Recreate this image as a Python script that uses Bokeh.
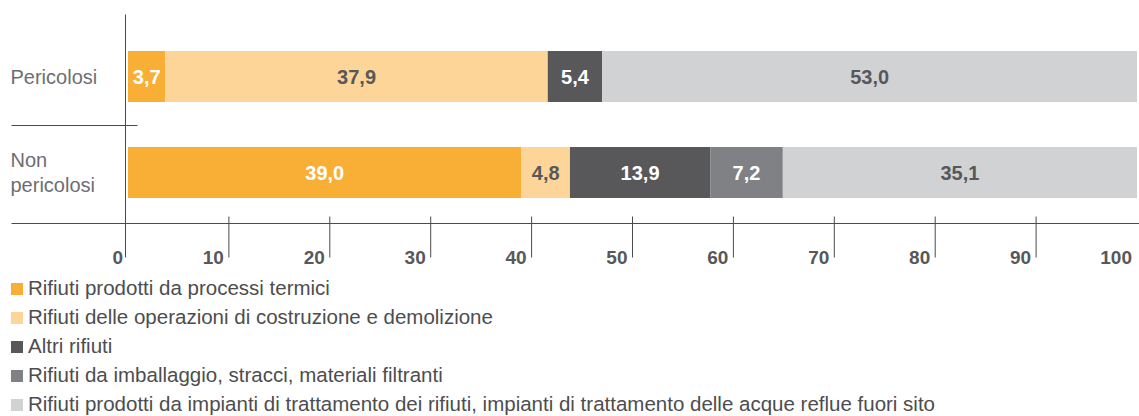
import numpy as np
from bokeh.plotting import figure
from bokeh.models import ColumnDataSource, Range1d, Legend, LegendItem
from bokeh.core.properties import value
from bokeh.embed import file_html
from bokeh.resources import INLINE

# ---------------- data ----------------
categories = ["Pericolosi", "Non\npericolosi"]
series = [
    "Rifiuti prodotti da processi termici",
    "Rifiuti delle operazioni di costruzione e demolizione",
    "Altri rifiuti",
    "Rifiuti da imballaggio, stracci, materiali filtranti",
    "Rifiuti prodotti da impianti di trattamento dei rifiuti, impianti di trattamento delle acque reflue fuori sito",
]
termici = [3.7, 39.0]
costruzione = [37.9, 4.8]
altri = [5.4, 13.9]
imballaggio = [0.0, 7.2]
impianti = [53.0, 35.1]
x_ticks = [0, 10, 20, 30, 40, 50, 60, 70, 80, 90, 100]
tick_labels = ["0", "10", "20", "30", "40", "50", "60", "70", "80", "90", "100"]

# ---------------- style ----------------
colors = ["#F9AE35", "#FDD598", "#58585A", "#808184", "#D1D2D4"]
label_colors = ["#FFFFFF", "#58585A", "#FFFFFF", "#FFFFFF", "#58585A"]
FONT = "Liberation Sans"

# ---------------- layout ----------------
W, H = 1139, 416
ZERO_PX = 127.5     # canvas x of value 0
UNIT_PX = 10.09     # pixels per unit
TOP_PX = 76         # canvas y of first category centre
ROW_PX = 96         # pixels between categories

def xv(cx):
    return (cx - ZERO_PX) / UNIT_PX

def yv(cy):
    return (cy - TOP_PX) / ROW_PX

p = figure(width=W, height=H, x_range=Range1d(xv(0), xv(W)), y_range=Range1d(yv(H), yv(0)),
           output_backend="svg", toolbar_location=None, min_border=0,
           x_axis_location=None, y_axis_location=None)
p.grid.visible = False
p.outline_line_color = None
p.background_fill_color = None
p.border_fill_color = "white"

keys = ["termici", "costruzione", "altri", "imballaggio", "impianti"]
data = dict(y=list(range(len(categories))), termici=termici, costruzione=costruzione,
            altri=altri, imballaggio=imballaggio, impianti=impianti)
src = ColumnDataSource(data)
renderers = p.hbar_stack(keys, y="y", height=51 / ROW_PX, fill_color=colors,
                         line_color=None, source=src)

# value labels
arr = np.array([termici, costruzione, altri, imballaggio, impianti])
cum = np.cumsum(arr, axis=0)
for j in range(len(keys)):
    xs_l, ys_l, tx = [], [], []
    for i in range(len(categories)):
        v = arr[j, i]
        if v <= 0:
            continue
        xs_l.append(cum[j, i] - v / 2)
        ys_l.append(i)
        tx.append(f"{v:.1f}".replace(".", ","))
    p.text(x=xs_l, y=ys_l, text=tx, text_align="center", text_baseline="middle",
           text_font=value(FONT), text_font_style="bold", text_font_size="20px",
           text_color=label_colors[j])

# structural lines
LINE = "#4a4a4c"
# vertical axis line
p.segment(x0=[xv(125)], y0=[yv(14)], x1=[xv(125)], y1=[yv(257)], line_color=LINE, line_width=1)
# horizontal axis line
p.segment(x0=[xv(11)], y0=[yv(223)], x1=[xv(W)], y1=[yv(223)], line_color=LINE, line_width=1)
# separator between categories
p.segment(x0=[xv(11)], y0=[yv(125)], x1=[xv(137)], y1=[yv(125)], line_color=LINE, line_width=1)
# tick marks
inner = x_ticks[1:-1]
p.segment(x0=inner, y0=[yv(216)] * len(inner), x1=inner, y1=[yv(257)] * len(inner),
          line_color=LINE, line_width=1)
# tick labels
p.text(x=x_ticks, y=[yv(257)] * len(x_ticks), text=tick_labels, text_align="right",
       text_baseline="alphabetic", x_offset=-5, text_font=value(FONT),
       text_font_style="bold", text_font_size="19px", text_color="#58585A")
# category labels
p.text(x=[xv(10)] * len(categories), y=list(range(len(categories))), text=categories,
       text_align="left", text_baseline="middle", text_font=value(FONT),
       text_font_size="20px", text_color="#6D6E71", text_line_height=1.1)

legend = Legend(items=[LegendItem(label=s, renderers=[r]) for s, r in zip(series, renderers)],
                location=(9, 0), orientation="vertical", padding=0, margin=0,
                spacing=5, glyph_width=15, glyph_height=15, label_standoff=4,
                label_text_font=FONT, label_text_font_size="20.5px",
                label_text_color="#4D4D4F", border_line_color=None,
                background_fill_alpha=0)
p.add_layout(legend)

open("out.html", "w").write(file_html(p, INLINE))
